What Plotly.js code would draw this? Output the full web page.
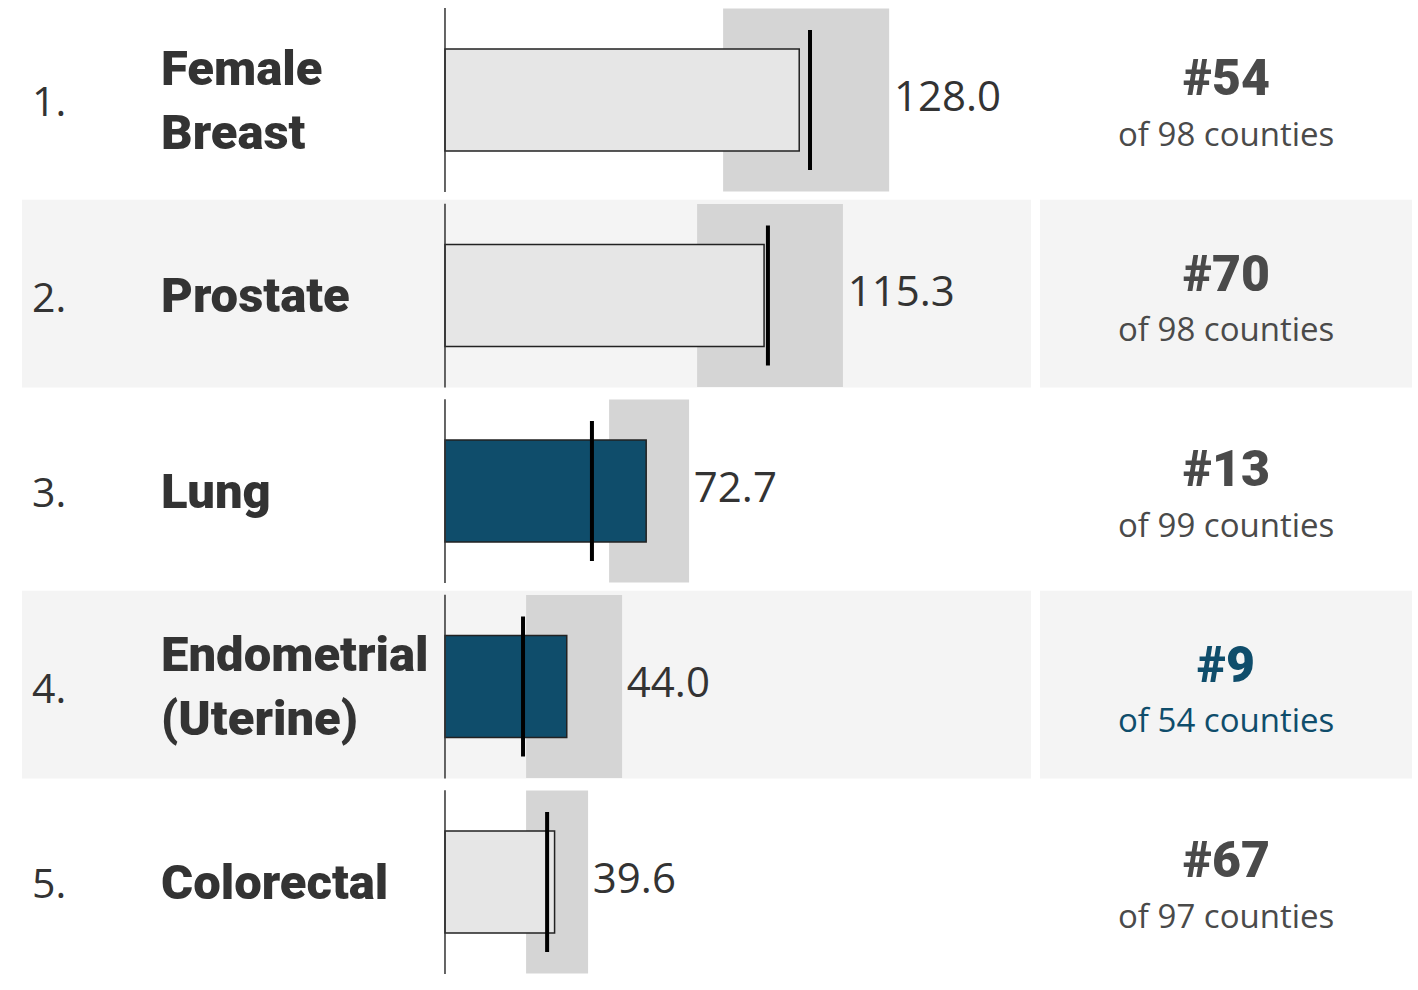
<!DOCTYPE html>
<html>
<head>
<meta charset="utf-8">
<script src="https://cdn.plot.ly/plotly-3.0.1.min.js"></script>
<style>html,body{margin:0;padding:0;background:#fff;}#chart{width:1418px;height:990px;}</style>
</head>
<body>
<div id="chart"></div>
<script>
// ---- data ----
const rankLabels = ["1.", "2.", "3.", "4.", "5."];
const cancerSites = ["Female<br>Breast", "Prostate", "Lung", "Endometrial<br>(Uterine)", "Colorectal"];
const countyRates = [128.0, 115.3, 72.7, 44.0, 39.6];
const ciLower = [100.5, 91.1, 59.3, 29.3, 29.3];
const ciUpper = [160.5, 143.8, 88.2, 64.0, 51.7];
const stateRates = [131.9, 116.7, 53.1, 28.2, 36.9];
const countyRanks = [54, 70, 13, 9, 67];
const countyTotals = [98, 98, 99, 54, 97];
const highlightRank = [false, false, false, true, false];

// ---- derived ----
const rows = countyRates.map((_, i) => i);
const significant = countyRates.map((v, i) => stateRates[i] < ciLower[i] || stateRates[i] > ciUpper[i]);
const barColors = significant.map(s => s ? "#0f4d6b" : "#e6e6e6");

const W = 1418;
const TXT = "#333333";
const HEAVY = "'Roboto Black', 'Inter', 'Roboto', 'DejaVu Sans', sans-serif";
const REG = "'Open Sans', 'Noto Sans', sans-serif";

const traces = [
  { // confidence interval bands
    type: "bar", orientation: "h",
    y: rows, x: ciUpper.map((u, i) => u - ciLower[i]), base: ciLower,
    width: 0.936, marker: { color: "#d5d5d5", line: { width: 0 } },
    hoverinfo: "skip"
  },
  { // county rate bars
    type: "bar", orientation: "h",
    y: rows, x: countyRates, width: 0.522,
    marker: { color: barColors, line: { color: "#222222", width: 1.5 } },
    hoverinfo: "skip"
  },
  { // state rate markers
    type: "scatter", mode: "markers",
    x: stateRates, y: rows,
    marker: { size: 1, color: "rgba(0,0,0,0)" },
    error_y: { type: "constant", value: 0.358, thickness: 4, width: 0, color: "#000000" },
    hoverinfo: "skip"
  },
  { // value labels
    type: "scatter", mode: "markers+text",
    x: ciUpper, y: rows,
    marker: { size: 6, color: "rgba(0,0,0,0)" },
    text: countyRates.map(v => v.toFixed(1)),
    textposition: "middle right",
    textfont: { family: REG, size: 42, color: TXT },
    hoverinfo: "skip"
  }
];

const shapes = [];
rows.forEach(i => {
  if (i % 2 === 1) {
    shapes.push({ type: "rect", layer: "below", xref: "paper", yref: "y",
      x0: 22 / W, x1: 1031 / W, y0: i - 0.49, y1: i + 0.47,
      fillcolor: "#f4f4f4", line: { width: 0 } });
    shapes.push({ type: "rect", layer: "below", xref: "paper", yref: "y",
      x0: 1040 / W, x1: 1412 / W, y0: i - 0.49, y1: i + 0.47,
      fillcolor: "#f4f4f4", line: { width: 0 } });
  }
  shapes.push({ type: "line", layer: "above", xref: "x", yref: "y",
    x0: 0, x1: 0, y0: i - 0.47, y1: i + 0.47,
    line: { color: "#333333", width: 1.5 } });
});

const annotations = [];
rows.forEach(i => {
  annotations.push({ xref: "paper", yref: "y", x: 30 / W, y: i, xanchor: "left", yanchor: "middle",
    text: rankLabels[i], showarrow: false, font: { family: REG, size: 41, color: TXT } });
  annotations.push({ xref: "paper", yref: "y", x: 159 / W, y: i, xanchor: "left", yanchor: "middle",
    text: cancerSites[i], align: "left", showarrow: false,
    font: { family: HEAVY, size: 49, color: TXT, weight: 900 } });
  const rc = highlightRank[i] ? "#0f4d6b" : "#4a4a4a";
  annotations.push({ xref: "paper", yref: "y", x: 1226 / W, y: i, xanchor: "center", yanchor: "middle",
    yshift: 22, text: "#" + countyRanks[i], showarrow: false,
    font: { family: HEAVY, size: 50, color: rc, weight: 900 } });
  annotations.push({ xref: "paper", yref: "y", x: 1226 / W, y: i, xanchor: "center", yanchor: "middle",
    yshift: -33, text: "of " + countyTotals[i] + " counties", showarrow: false,
    font: { family: REG, size: 33, color: rc } });
});

const layout = {
  width: 1418, height: 990,
  margin: { l: 0, r: 0, t: 0, b: 0 },
  paper_bgcolor: "#ffffff", plot_bgcolor: "rgba(0,0,0,0)",
  showlegend: false, barmode: "overlay",
  xaxis: { range: [-160.8, 351.6], visible: false, fixedrange: true },
  yaxis: { range: [4.552, -0.5115], visible: false, fixedrange: true },
  shapes: shapes, annotations: annotations
};

Plotly.newPlot("chart", traces, layout, { displayModeBar: false, staticPlot: true });
</script>
</body>
</html>
